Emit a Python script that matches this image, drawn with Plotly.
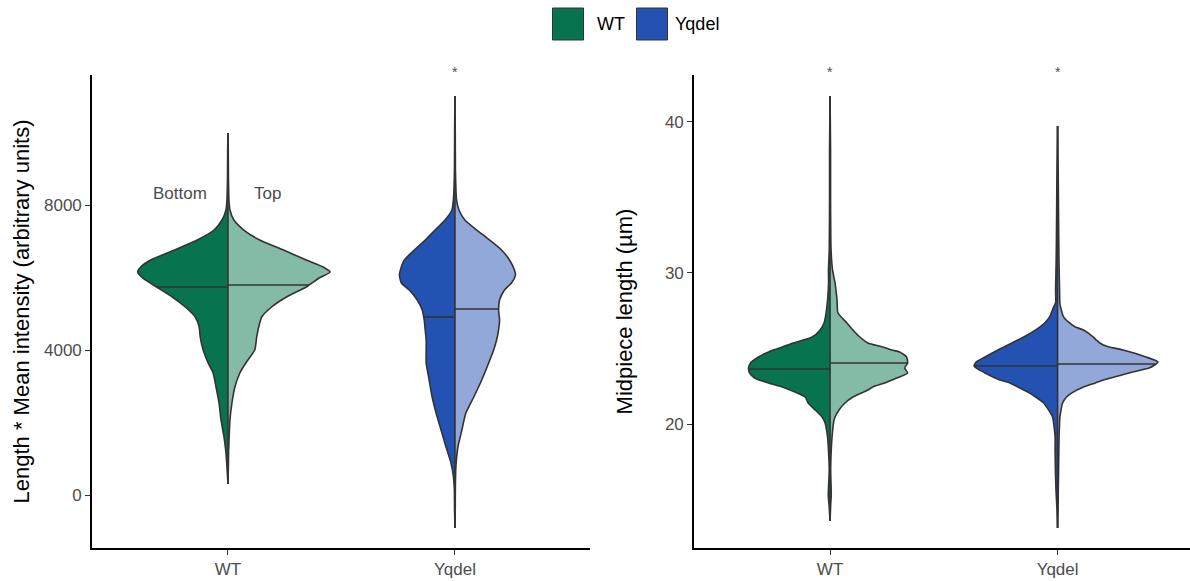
import numpy as np
import plotly.graph_objects as go

# ---------------- data ----------------
CATEGORIES = ["WT", "Yqdel"]
SIDES = ["Bottom", "Top"]

# Panel 1: Length * Mean intensity -- density profiles (relative half-widths)
INT_WT_Y = [9986, 9517, 8690, 8138, 7862, 7586, 7310, 7034, 6759, 6483, 6290, 6152, 5986, 5738,
            5462, 5186, 4910, 4634, 4359, 4000, 3641, 3366, 2979, 2538, 2069, 1600, 1159, 772, 303]
INT_WT_BOTTOM = [0, 0.3, 0.5, 1, 2, 6, 14, 31, 54, 78, 88, 91, 86, 72,
                 56, 43, 33, 29, 28, 25, 20, 15, 12, 9, 7, 4, 2, 1, 0]
INT_WT_TOP = [0, 0.3, 0.5, 1, 2, 6, 16, 32, 56, 79, 96, 103, 92, 79,
              59, 44, 34, 31, 29, 27, 18, 12, 7, 4, 2, 1.2, 0.6, 0.4, 0]

INT_YQ_Y = [11007, 10069, 8966, 8414, 8138, 7862, 7586, 7310, 7034, 6759, 6483, 6207, 6069, 5848,
            5655, 5379, 5103, 4828, 4552, 4276, 4000, 3641, 3172, 2703, 2262, 1793, 1324, 883,
            497, 138, -414, -910]
INT_YQ_BOTTOM = [0, 0.3, 0.5, 1, 1.6, 3, 10, 20, 30, 41, 51, 55, 56, 54,
                 46, 38, 33, 31, 30, 29, 29, 29, 26, 23, 19, 14, 9, 4,
                 1.5, 0.6, 0.4, 0]
INT_YQ_TOP = [0, 0.3, 0.5, 1, 1.6, 4, 10, 22, 35, 47, 55, 60, 61, 57,
              50, 45, 44, 45, 44, 42, 39, 34, 27, 19, 11, 7, 3, 1.2,
              0.6, 0.4, 0.3, 0]

INT_MEDIANS = {"WT": (5738, 5793), "Yqdel": (4910, 5131)}

# Panel 2: Midpiece length
MP_WT_Y = [41.72, 38.15, 34.83, 31.52, 30.20, 29.34, 28.21, 27.35, 26.69, 26.23, 25.76, 25.36,
           25.10, 24.90, 24.77, 24.44, 24.04, 23.71, 23.38, 23.05, 22.72, 22.45, 22.25, 21.79,
           21.39, 20.93, 20.46, 20.07, 19.14, 18.28, 16.95, 15.30, 14.64, 13.58]
MP_WT_BOTTOM = [0, 0.5, 0.5, 0.8, 1.6, 1.5, 2.5, 4, 6, 10, 18, 37,
                48, 57, 62, 72, 80, 82, 81, 76, 62, 48, 40, 25,
                22, 15, 8, 5, 2.5, 1.6, 0.8, 1.8, 1, 0]
MP_WT_TOP = [0, 0.5, 0.5, 1, 2.5, 5, 7, 8, 17, 23, 30, 38,
             53, 62, 70, 77, 78, 75, 78, 67, 55, 43, 38, 23,
             15, 9, 5, 3.5, 2, 1.2, 0.6, 1.2, 0.6, 0]

MP_YQ_Y = [39.74, 36.82, 33.51, 30.86, 28.87, 28.01, 27.75, 27.09, 26.69, 26.42, 26.23, 25.76,
           25.56, 25.23, 25.10, 24.90, 24.44, 24.11, 23.84, 23.71, 23.38, 22.91, 22.72, 22.45,
           22.05, 21.79, 21.39, 21.13, 20.73, 20.46, 20.07, 19.14, 18.28, 16.95, 15.63, 14.30, 13.11]
MP_YQ_BOTTOM = [0, 0.6, 1, 1.4, 2, 2, 4, 8, 13, 18, 22, 34,
                40, 50, 54, 60, 73, 82, 84, 82, 73, 58, 48, 40,
                28, 22, 14, 11, 7, 5, 4, 2.5, 2.5, 2.2, 1.6, 0.6, 0]
MP_YQ_TOP = [0, 0.6, 1, 1.4, 2, 2.3, 3, 6, 12, 18, 26, 36,
             39, 46, 52, 66, 89, 101, 96, 92, 72, 46, 38, 26,
             14, 9, 5, 4, 3, 2.3, 2, 1.5, 1.3, 1, 0.7, 0.5, 0]

MP_MEDIANS = {"WT": (23.64, 24.04), "Yqdel": (23.84, 23.97)}

# ---------------- style ----------------
DARK = {"WT": "#08744F", "Yqdel": "#2452B3"}
LIGHT = {"WT": "#84BBA7", "Yqdel": "#91A8D8"}
OUTLINE = "#333333"
WIDTH_SCALE = 0.45 / 103.0
FONT = "Liberation Sans, Arial, sans-serif"

fig = go.Figure()


def add_violin(xa, ya, cat, ys, wb, wt, med):
    c = CATEGORIES.index(cat) + 1
    ys = np.array(ys, float)
    for side, w, col, m in (("bottom", wb, DARK[cat], med[0]), ("top", wt, LIGHT[cat], med[1])):
        w = np.array(w, float) * WIDTH_SCALE
        sgn = -1 if side == "bottom" else 1
        fig.add_trace(go.Scatter(
            x=c + sgn * w, y=ys, xaxis=xa, yaxis=ya, mode="lines",
            fill="toself", fillcolor=col,
            line=dict(color=OUTLINE, width=1.6, shape="spline", smoothing=0.6),
            hoverinfo="skip", showlegend=False))
        wm = np.interp(m, ys[::-1], w[::-1])
        fig.add_trace(go.Scatter(
            x=[c, c + sgn * wm], y=[m, m], xaxis=xa, yaxis=ya, mode="lines",
            line=dict(color=OUTLINE, width=1.6), hoverinfo="skip", showlegend=False))
    fig.add_trace(go.Scatter(
        x=[c, c], y=[ys.min(), ys.max()], xaxis=xa, yaxis=ya, mode="lines",
        line=dict(color=OUTLINE, width=1.6), hoverinfo="skip", showlegend=False))


add_violin("x", "y", "WT", INT_WT_Y, INT_WT_BOTTOM, INT_WT_TOP, INT_MEDIANS["WT"])
add_violin("x", "y", "Yqdel", INT_YQ_Y, INT_YQ_BOTTOM, INT_YQ_TOP, INT_MEDIANS["Yqdel"])
add_violin("x2", "y2", "WT", MP_WT_Y, MP_WT_BOTTOM, MP_WT_TOP, MP_MEDIANS["WT"])
add_violin("x2", "y2", "Yqdel", MP_YQ_Y, MP_YQ_BOTTOM, MP_YQ_TOP, MP_MEDIANS["Yqdel"])

W, H = 1190, 581
ydom = [33 / H, 506 / H]
tickfont = dict(family=FONT, size=17, color="#4D4D4D")
titlefont = dict(family=FONT, size=22, color="#000000")
common_x = dict(tickmode="array", tickvals=[1, 2], ticktext=CATEGORIES, showline=True,
                linecolor="#000000", linewidth=1.6, ticks="outside", ticklen=5,
                tickcolor="#333333", tickfont=tickfont, showgrid=False, zeroline=False)
common_y = dict(showline=True, linecolor="#000000", linewidth=1.6, ticks="outside", ticklen=5,
                tickcolor="#333333", tickfont=tickfont, showgrid=False, zeroline=False)

fig.update_layout(
    width=W, height=H, margin=dict(l=0, r=0, t=0, b=0),
    plot_bgcolor="white", paper_bgcolor="white", showlegend=False,
    font=dict(family=FONT),
    xaxis=dict(domain=[92 / W, 590 / W], range=[0.401, 2.595], anchor="y", **common_x),
    yaxis=dict(domain=ydom, range=[-1462, 11586], anchor="x", tickvals=[0, 4000, 8000],
               title=dict(text="Length * Mean intensity (arbitrary units)", font=titlefont, standoff=8),
               **common_y),
    xaxis2=dict(domain=[694 / W, 1.0], range=[0.402, 2.582], anchor="y2", **common_x),
    yaxis2=dict(domain=ydom, range=[11.79, 43.11], anchor="x2", tickvals=[20, 30, 40],
                title=dict(text="Midpiece length (µm)", font=titlefont, standoff=26),
                **common_y),
)

ann = []
star_y = 1 - 72 / H
for xr, xv in (("x", 2), ("x2", 1), ("x2", 2)):
    ann.append(dict(x=xv, y=star_y, xref=xr, yref="paper", text="*", showarrow=False,
                    yanchor="middle", font=dict(family=FONT, size=14, color="#4D4D4D")))
ann.append(dict(x=0.789, y=8331, xref="x", yref="y", text=SIDES[0], showarrow=False,
                font=dict(family=FONT, size=17, color="#4D4D4D")))
ann.append(dict(x=1.172, y=8331, xref="x", yref="y", text=SIDES[1], showarrow=False,
                font=dict(family=FONT, size=17, color="#4D4D4D")))

# legend (manual)
shapes = []
legend_items = [("WT", 552.5, 611), ("Yqdel", 636.5, 697)]
for cat, bx, tx in legend_items:
    shapes.append(dict(type="rect", xref="paper", yref="paper",
                       x0=bx / W, x1=(bx + 31) / W, y0=1 - 40 / H, y1=1 - 8 / H,
                       fillcolor=DARK[cat], line=dict(color="#333333", width=1)))
    ann.append(dict(x=tx / W, y=1 - 24 / H, xref="paper", yref="paper", text=cat,
                    showarrow=False, xanchor="center", yanchor="middle",
                    font=dict(family=FONT, size=18, color="#000000")))

fig.update_layout(annotations=ann, shapes=shapes)
fig.write_html("out.html", config={"displayModeBar": False},
               post_script="document.body.style.margin='0';")
